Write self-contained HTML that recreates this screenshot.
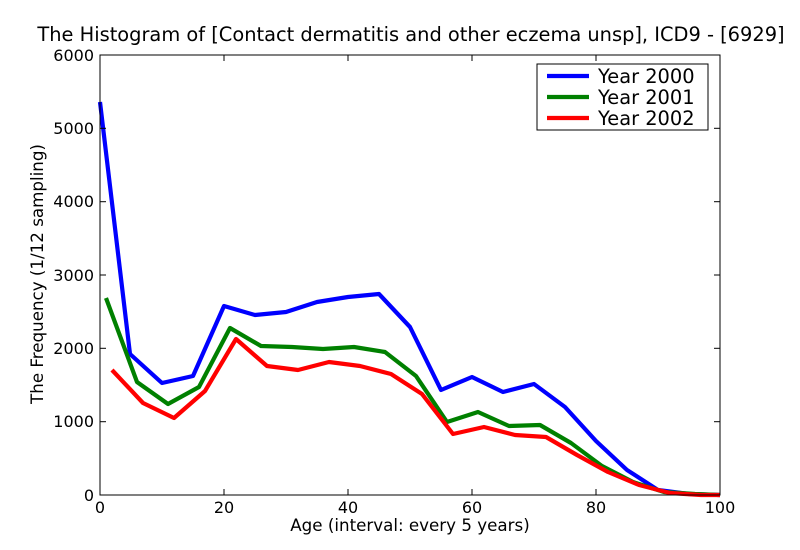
<!DOCTYPE html>
<html><head><meta charset="utf-8"><style>body{margin:0;background:#fff}svg{display:block}text{font-family:"DejaVu Sans","Liberation Sans",sans-serif;fill:#000}</style></head><body>
<svg width="800" height="550" xmlns="http://www.w3.org/2000/svg">
<rect width="800" height="550" fill="#fff"/>
<text x="411" y="41" font-size="19.4" text-anchor="middle">The Histogram of [Contact dermatitis and other eczema unsp], ICD9 - [6929]</text>
<g fill="none" stroke-width="4.2" stroke-linejoin="round">
<polyline stroke="#0000ff" points="100,102 130,354 162,383 193,376 224,306 255,315 286,312 317,302 348,297 379,294 410,327 441,390 472,377 503,392 534,384 565,407 596,441 627,470 658,490 689,494 720,495"/>
<polyline stroke="#008000" points="106,298 137,382 168,404 199,387 230,328 261,346 292,347 323,349 354,347 385,352 416,376 447,422 478,412 509,426 540,425 571,443 602,466 633,482 664,492 695,494 720,495"/>
<polyline stroke="#ff0000" points="112,370 143,403 174,418 205,391 236,339 267,366 298,370 329,362 360,366 391,374 422,394 453,434 484,427 515,435 546,437 577,455 608,472 639,485 670,493 701,495 720,495"/>
</g>
<rect x="100" y="55" width="620" height="440" fill="none" stroke="#000" stroke-width="1"/>
<g stroke="#000" stroke-width="1">
<line x1="100" y1="495" x2="100" y2="489"/><line x1="224" y1="495" x2="224" y2="489"/><line x1="348" y1="495" x2="348" y2="489"/><line x1="472" y1="495" x2="472" y2="489"/><line x1="596" y1="495" x2="596" y2="489"/>
<line x1="224" y1="55" x2="224" y2="61"/><line x1="348" y1="55" x2="348" y2="61"/><line x1="472" y1="55" x2="472" y2="61"/><line x1="596" y1="55" x2="596" y2="61"/>
<line x1="100" y1="421.7" x2="106" y2="421.7"/><line x1="100" y1="348.3" x2="106" y2="348.3"/><line x1="100" y1="275" x2="106" y2="275"/><line x1="100" y1="201.7" x2="106" y2="201.7"/><line x1="100" y1="128.3" x2="106" y2="128.3"/>
<line x1="720" y1="421.7" x2="714" y2="421.7"/><line x1="720" y1="348.3" x2="714" y2="348.3"/><line x1="720" y1="275" x2="714" y2="275"/><line x1="720" y1="201.7" x2="714" y2="201.7"/><line x1="720" y1="128.3" x2="714" y2="128.3"/>
</g>
<g font-size="16" text-anchor="middle">
<text x="100" y="513">0</text><text x="224" y="513">20</text><text x="348" y="513">40</text><text x="472" y="513">60</text><text x="596" y="513">80</text><text x="720" y="513">100</text>
</g>
<g font-size="16" text-anchor="end">
<text x="94" y="501">0</text><text x="94" y="427">1000</text><text x="94" y="354">2000</text><text x="94" y="281">3000</text><text x="94" y="207">4000</text><text x="94" y="134">5000</text><text x="94" y="61">6000</text>
</g>
<text x="410" y="531" font-size="16.7" text-anchor="middle">Age (interval: every 5 years)</text>
<text transform="translate(43,274) rotate(-90)" font-size="16.7" text-anchor="middle">The Frequency (1/12 sampling)</text>
<rect x="537" y="64" width="171" height="66" fill="#fff" stroke="#000"/>
<g stroke-width="4.2"><line x1="547" y1="76" x2="589" y2="76" stroke="#0000ff"/><line x1="547" y1="97" x2="589" y2="97" stroke="#008000"/><line x1="547" y1="118" x2="589" y2="118" stroke="#ff0000"/></g>
<g font-size="19.4"><text x="598" y="83">Year 2000</text><text x="598" y="104">Year 2001</text><text x="598" y="125">Year 2002</text></g>
</svg>
</body></html>
